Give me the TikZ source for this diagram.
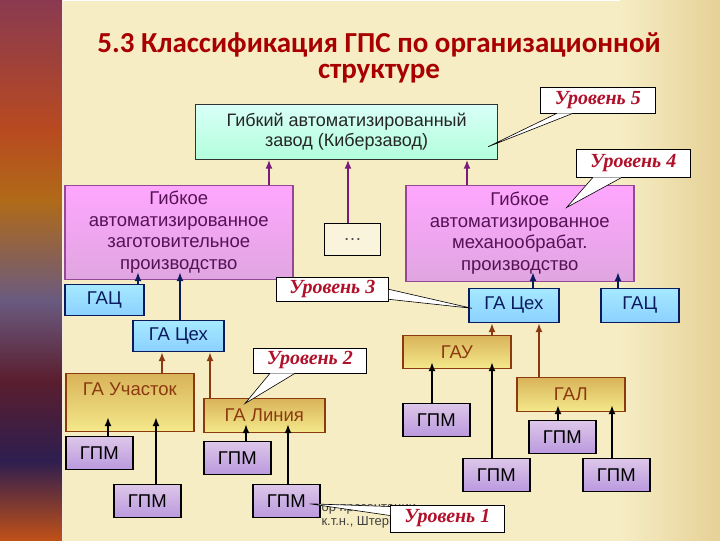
\documentclass[tikz,border=0pt]{standalone}
\usepackage{fontspec}
\setmainfont{Liberation Sans}
\newfontfamily\titlefont{Carlito}
\newfontfamily\levelfont{Liberation Serif}
\usetikzlibrary{arrows.meta}
\definecolor{cream}{HTML}{F6EDC5}
\definecolor{creamdark}{HTML}{E6D196}
\definecolor{titlered}{HTML}{A80000}
\definecolor{levelred}{HTML}{B0102A}
\definecolor{arrpurple}{HTML}{7A1A7A}
\definecolor{arrnavy}{HTML}{0A1A5E}
\definecolor{arrbrown}{HTML}{8B3A10}
\definecolor{s1}{HTML}{C05018}\definecolor{s2}{HTML}{2E1E50}\definecolor{s3}{HTML}{5A1E2E}
\definecolor{s4}{HTML}{6A5A80}\definecolor{s5}{HTML}{B06A18}\definecolor{s6}{HTML}{B84A20}\definecolor{s7}{HTML}{8A3A50}
\pgfdeclareverticalshading{stripshade}{100bp}{color(0bp)=(s1); color(25bp)=(s1); color(32.4bp)=(s2); color(39.8bp)=(s3); color(47.2bp)=(s4); color(56.5bp)=(s5); color(63bp)=(s6); color(75bp)=(s7); color(100bp)=(s7)}
\begin{document}
\begin{tikzpicture}[x=1pt,y=-1pt,font=\fontsize{18.5}{21.5}\selectfont,
  box/.style={draw,line width=1.6pt,anchor=north west,inner sep=0pt,align=center},
  zbox/.style={box,draw=black!80,line width=1.2pt,top color=green!20!cyan!15!white,bottom color=green!45!cyan!30!white,text=black!85},
  prodbox/.style={box,draw=arrpurple!80,top color=magenta!35!white,bottom color=magenta!30!violet!35!white,text=arrpurple!70!black},
  gacbox/.style={box,draw=arrnavy,top color=blue!25!cyan!35!white,bottom color=blue!40!cyan!45!white,text=arrnavy},
  gabox/.style={box,draw=arrbrown,top color=brown!75!yellow!80!white,bottom color=brown!35!yellow!50!white,text=arrbrown},
  gpmbox/.style={box,draw=black,minimum width=67pt,minimum height=33pt,top color=blue!20!violet!22!white,bottom color=blue!35!violet!40!white,text=black},
  dotbox/.style={box,draw=black,line width=1.2pt,fill=cream!60!white,text=black!70},
  levelbox/.style={anchor=north west,draw=black,line width=.8pt,fill=white,inner sep=0pt,font=\levelfont\bfseries\itshape\fontsize{20}{22}\selectfont,text=levelred},
  titletext/.style={inner sep=0pt,font=\titlefont\bfseries\fontsize{29}{32}\selectfont,text=titlered},
  arr/.style={line width=2pt,-{Latex[length=9pt,width=7pt]}}]
% background
\fill[cream](0,0)rectangle(720,540);
\shade[left color=cream,right color=creamdark](620,0)rectangle(720,540);
\shade[shading=stripshade](0,0)rectangle(62,540);
\draw[white,opacity=.5,line width=1pt](62,0)--(62,540);
% title
\node[titletext](t1)at(379,44){5.3 Классификация ГПС по организационной};
\node[titletext](t2)at(379,73){структуре};
% level 5 and 4
\node[zbox,minimum width=302pt,minimum height=55pt,font=\fontsize{18}{20.5}\selectfont](zavod)at(195,103){Гибкий автоматизированный\\завод (Киберзавод)};
\node[prodbox,minimum width=228pt,minimum height=94pt](zag)at(64,184){Гибкое\\автоматизированное\\заготовительное\\производство};
\node[dotbox,minimum width=56pt,minimum height=32pt](dots)at(324,222){\dots};
\node[prodbox,minimum width=228pt,minimum height=96pt](meh)at(405,184){Гибкое\\автоматизированное\\механообрабат.\\производство};
% level 3
\node[gacbox,minimum width=79pt,minimum height=31pt](gac1)at(64,283){ГАЦ};
\node[gacbox,minimum width=91pt,minimum height=31pt](cex1)at(132,319){ГА Цех};
\node[gacbox,minimum width=90pt,minimum height=34pt](cex2)at(468,287){ГА Цех};
\node[gacbox,minimum width=78pt,minimum height=34pt](gac2)at(600,287){ГАЦ};
% level 2
\node[gabox,minimum width=128pt,minimum height=58pt,text height=22pt,text depth=36pt](uch)at(65,372){ГА Участок};
\node[gabox,minimum width=121pt,minimum height=34pt](lin)at(203,397){ГА Линия};
\node[gabox,minimum width=108pt,minimum height=33pt](gau)at(402,334){ГАУ};
\node[gabox,minimum width=108pt,minimum height=34pt](gal)at(516,376){ГАЛ};
% level 1
\foreach\n/\x/\y in{p1/65/435,p2/113/483,p3/203/440,p4/252/483,p5/402/402,p6/462/457,p7/528/419,p8/582/457}{\node[gpmbox](\n)at(\x,\y){ГПМ};}
% arrows
\foreach\s/\t/\dx/\dy/\c in{zag/zavod/205/0/arrpurple,dots/zavod/24/0/arrpurple,meh/zavod/62/0/arrpurple,
  gac1/zag/74/8/arrnavy,cex1/zag/48/8/arrnavy,cex2/meh/65/10/arrnavy,gac2/meh/18/10/arrnavy,
  uch/cex1/97/0/arrbrown,lin/cex1/7/0/arrbrown,gau/cex2/90/0/arrbrown,gal/cex2/23/0/arrbrown,
  p1/uch/43/15/black,p2/uch/43/15/black,p3/lin/43/9/black,p4/lin/36/9/black,
  p5/gau/30/7/black,p6/gau/30/7/black,p7/gal/30/7/black,p8/gal/30/7/black}
  {\draw[arr,\c]([xshift=\dx pt]\s.north west)--([xshift=\dx pt,yshift=\dy pt]\s.north west|-\t.south);}
% text behind level 1
\node[anchor=west,font=\fontsize{13}{14}\selectfont,text=black!75,align=left](auth)at(318,516){ор презентации\\к.т.н., Штерн};
% level callouts
\node[levelbox,minimum width=115pt,minimum height=26pt](u5)at(540,86){Уровень 5};
\node[levelbox,minimum width=114pt,minimum height=28pt](u4)at(576,148){Уровень 4};
\node[levelbox,minimum width=112pt,minimum height=24pt](u3)at(276,276){Уровень 3};
\node[levelbox,minimum width=113pt,minimum height=25pt](u2)at(253,347){Уровень 2};
\node[levelbox,minimum width=114pt,minimum height=27pt](u1)at(390,504){Уровень 1};
\foreach\u/\an/\ax/\ay/\bx/\by/\t/\tx/\ty in{u5/south west/17/0/33/0/zavod.south east/-10/13,u4/south west/17/0/46/0/meh.north east/-68/-23,
  u3/south east/0/12/0/2/cex2.west/4/-3,u2/south west/17/0/42/0/lin.north west/42/-6,u1/north west/0/-2/0/-11/p4.east/-11/-3}
  {\coordinate(tip)at([xshift=\tx pt,yshift=\ty pt]\t);
   \coordinate(a)at([xshift=\ax pt,yshift=\ay pt]\u.\an);\coordinate(b)at([xshift=\bx pt,yshift=\by pt]\u.\an);
   \fill[white](a)--(tip)--(b)--cycle;\draw[line width=.6pt](a)--(tip)--(b);}
\end{tikzpicture}
\end{document}
